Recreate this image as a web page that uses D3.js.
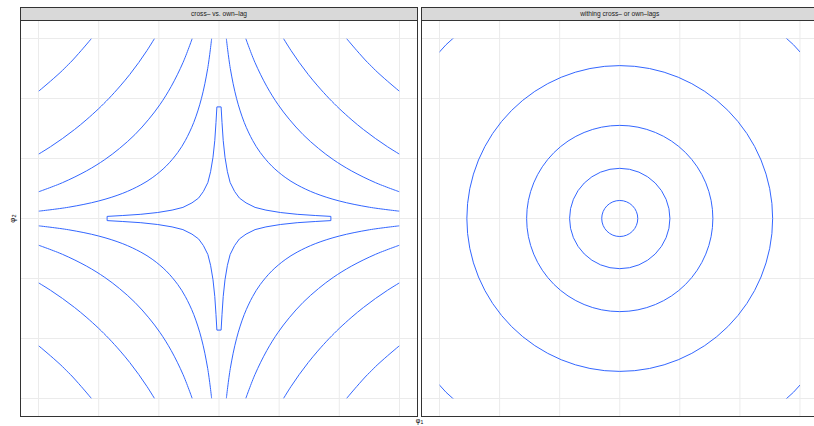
<!DOCTYPE html>
<html>
<head>
<meta charset="utf-8">
<script src="https://cdn.jsdelivr.net/npm/d3@7"></script>
<style>
  html, body { margin: 0; padding: 0; background: #fff; }
  svg { display: block; font-family: "Liberation Sans", Arial, Helvetica, sans-serif; }
</style>
</head>
<body>
<svg id="chart" width="814" height="426"></svg>
<script>
// Facet titles
const facetLabels = ["cross\u2013 vs. own\u2013lag", "withing cross\u2013 or own\u2013lags"];

// Grid breaks (same for φ1 and φ2)
const gridBreaks = [-3, -2, -1, 0, 1, 2, 3];

// Cross- vs. own-lag contours, one quadrant each as (|φ1|, |φ2|) pairs;
// the other quadrants are the mirror images.
const crossOuterA = [[3, 2.12], [2.8, 2.29], [2.6, 2.47], [2.536, 2.536], [2.47, 2.6], [2.29, 2.8], [2.12, 3]];
const crossOuterB = [[3, 1.072], [2.8, 1.197], [2.6, 1.334], [2.4, 1.484], [2.21, 1.641], [2.0, 1.831], [1.915, 1.915],
                     [1.831, 2.0], [1.641, 2.21], [1.484, 2.4], [1.334, 2.6], [1.197, 2.8], [1.072, 3]];
const crossInnerC = [[3, 0.445], [2.6, 0.598], [2.2, 0.795], [1.9, 0.981], [1.655, 1.167], [1.398, 1.398],
                     [1.167, 1.655], [0.981, 1.9], [0.795, 2.2], [0.598, 2.6], [0.445, 3]];
const crossInnerD = [[3, 0.122], [2.5, 0.188], [2.0, 0.292], [1.6, 0.42], [1.3, 0.56], [1.1, 0.686], [0.876, 0.876],
                     [0.686, 1.1], [0.56, 1.3], [0.42, 1.6], [0.292, 2.0], [0.188, 2.5], [0.122, 3]];
// Innermost (closed) contour, first quadrant from the φ2-axis tip to the φ1-axis tip
const crossStar = [[0.035, 1.86], [0.05, 1.6], [0.07, 1.3], [0.1, 1.02], [0.14, 0.78], [0.185, 0.6], [0.26, 0.45],
                   [0.34, 0.34], [0.45, 0.26], [0.6, 0.185], [0.78, 0.14], [1.02, 0.1], [1.3, 0.07], [1.6, 0.05], [1.86, 0.035]];

// Within cross- or own-lags: circular contours, radius in φ units
const withinRadii = [0.30, 0.835, 1.55, 2.545, 4.09];

const quadrantSigns = [[1, 1], [-1, 1], [-1, -1], [1, -1]];

const svg = d3.select("#chart");
const W = 814, H = 426;
svg.append("rect").attr("width", W).attr("height", H).attr("fill", "#fff");

const panelTop = 20.5, panelBottom = 416.5, stripTop = 7.5;
const panels = [
  { x0: 20.5, x1: 417.5, label: facetLabels[0] },
  { x0: 421.5, x1: 818, label: facetLabels[1] }
];
const dom = [-3.3, 3.3];
const y = d3.scaleLinear().domain(dom).range([panelBottom, panelTop]);
const blue = "#3366FF";
const gridCol = "#EBEBEB";
const frameCol = "#333333";

const defs = svg.append("defs");

panels.forEach((p, i) => {
  const x = d3.scaleLinear().domain(dom).range([p.x0, p.x1]);
  p.x = x;
  const g = svg.append("g");

  // panel background + grid
  g.append("rect").attr("x", p.x0).attr("y", panelTop)
    .attr("width", p.x1 - p.x0).attr("height", panelBottom - panelTop).attr("fill", "#fff");
  g.selectAll(".vg").data(gridBreaks).join("line")
    .attr("x1", d => x(d)).attr("x2", d => x(d))
    .attr("y1", panelTop).attr("y2", panelBottom)
    .attr("stroke", gridCol).attr("stroke-width", 1);
  g.selectAll(".hg").data(gridBreaks).join("line")
    .attr("x1", p.x0).attr("x2", p.x1)
    .attr("y1", d => y(d)).attr("y2", d => y(d))
    .attr("stroke", gridCol).attr("stroke-width", 1);

  // contour region clip ([-3, 3] in both directions)
  defs.append("clipPath").attr("id", "clip" + i).append("rect")
    .attr("x", x(-3)).attr("y", y(3))
    .attr("width", x(3) - x(-3)).attr("height", y(-3) - y(3));
  p.g = g.append("g").attr("clip-path", `url(#clip${i})`);

  // panel frame
  p.frame = () => g.append("rect").attr("x", p.x0).attr("y", panelTop)
    .attr("width", p.x1 - p.x0).attr("height", panelBottom - panelTop)
    .attr("fill", "none").attr("stroke", frameCol).attr("stroke-width", 1);

  // strip
  g.append("rect").attr("x", p.x0).attr("y", stripTop)
    .attr("width", p.x1 - p.x0).attr("height", panelTop - stripTop)
    .attr("fill", "#D9D9D9").attr("stroke", frameCol).attr("stroke-width", 1);
  g.append("text").attr("x", (p.x0 + p.x1) / 2).attr("y", 16.2)
    .attr("text-anchor", "middle").attr("font-size", 6.6).attr("fill", "#1A1A1A")
    .text(p.label);
});

// Left panel: cross- vs. own-lag contours
{
  const p = panels[0], x = p.x;
  const line = d3.line().x(d => x(d[0])).y(d => y(d[1])).curve(d3.curveCatmullRom.alpha(0.5));
  const openCurves = [crossOuterA, crossOuterB, crossInnerC, crossInnerD];
  openCurves.forEach(c => {
    quadrantSigns.forEach(([sx, sy]) => {
      p.g.append("path").datum(c.map(([a, b]) => [sx * a, sy * b]))
        .attr("d", line).attr("fill", "none").attr("stroke", blue).attr("stroke-width", 1);
    });
  });
  // closed star-shaped contour, walking the quadrants in order
  const q1 = crossStar.map(([a, b]) => [a, b]);
  const q4 = crossStar.slice().reverse().map(([a, b]) => [a, -b]);
  const q3 = crossStar.map(([a, b]) => [-a, -b]);
  const q2 = crossStar.slice().reverse().map(([a, b]) => [-a, b]);
  const starLine = d3.line().x(d => x(d[0])).y(d => y(d[1])).curve(d3.curveLinearClosed);
  p.g.append("path").datum([...q1, ...q4, ...q3, ...q2])
    .attr("d", starLine).attr("fill", "none").attr("stroke", blue).attr("stroke-width", 1)
    .attr("stroke-linejoin", "round");
  p.frame();
}

// Right panel: circular contours
{
  const p = panels[1], x = p.x;
  p.g.selectAll("circle").data(withinRadii).join("circle")
    .attr("cx", x(0)).attr("cy", y(0))
    .attr("r", d => x(d) - x(0))
    .attr("fill", "none").attr("stroke", blue).attr("stroke-width", 1);
  p.frame();
}

// Axis titles
const xt = svg.append("text").attr("x", 419.5).attr("y", 423.2)
  .attr("text-anchor", "middle").attr("font-size", 7).attr("fill", "#000");
xt.append("tspan").text("\u03C6");
xt.append("tspan").attr("font-size", 5).attr("dy", 1.2).text("1");

const yt = svg.append("text").attr("transform", "translate(14.5,218.5) rotate(-90)")
  .attr("text-anchor", "middle").attr("font-size", 8).attr("fill", "#000");
yt.append("tspan").text("\u03C6");
yt.append("tspan").attr("font-size", 5.5).attr("dy", 1.5).text("2");
</script>
</body>
</html>
